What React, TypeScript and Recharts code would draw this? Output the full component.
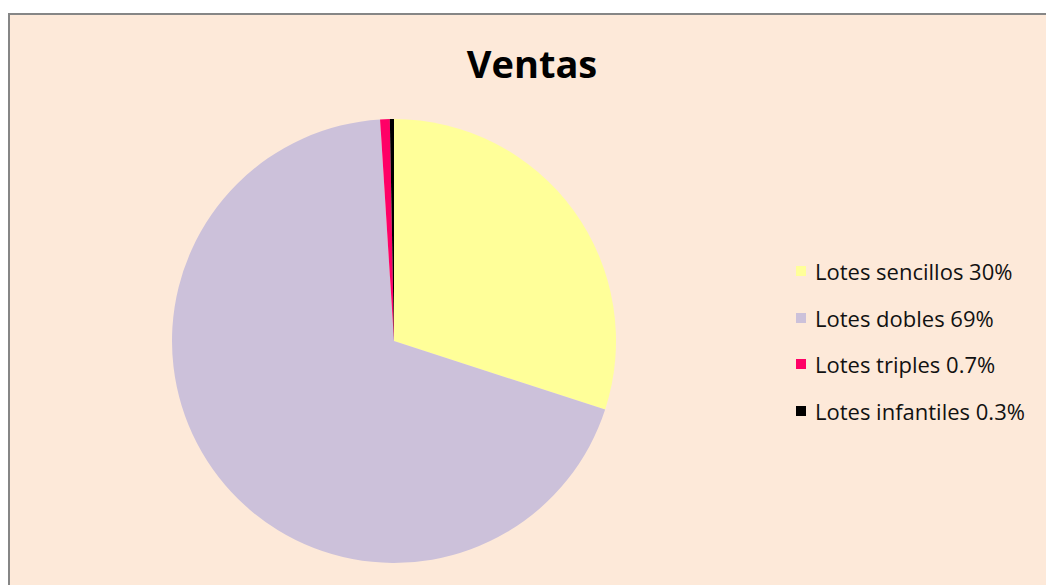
import * as React from "react";
import { PieChart, Pie, Cell, Legend } from "recharts";

const categories = ["Lotes sencillos", "Lotes dobles", "Lotes triples", "Lotes infantiles"];
const shares = [30, 69, 0.7, 0.3];
const shareLabels = ["30%", "69%", "0.7%", "0.3%"];
const colors = ["#FFFF99", "#CCC1DA", "#FF0066", "#000000"];

const data = categories.map((name, i) => ({
  name: name + " " + shareLabels[i],
  value: shares[i],
}));

const renderLegend = () => (
  <div>
    {data.map((d, i) => (
      <div
        key={d.name}
        style={{ display: "flex", alignItems: "center", height: 46.5 }}
      >
        <span
          style={{
            display: "inline-block",
            width: 10,
            height: 10,
            background: colors[i],
            marginRight: 9,
          }}
        />
        <span style={{ fontSize: 22, color: "#111" }}>{d.name}</span>
      </div>
    ))}
  </div>
);

export default function App() {
  return (
    <div
      style={{
        position: "absolute",
        left: 8,
        top: 13,
        width: 1040,
        height: 575,
        background: "#FDE9D9",
        borderLeft: "2px solid #868686",
        borderTop: "2px solid #868686",
        fontFamily: "'Open Sans', sans-serif",
      }}
    >
      <div
        style={{
          position: "absolute",
          left: 0,
          width: 1044,
          top: 22,
          textAlign: "center",
          fontSize: 38,
          fontWeight: "bold",
          color: "#000",
        }}
      >
        Ventas
      </div>
      <PieChart width={1040} height={575}>
        <Pie
          data={data}
          dataKey="value"
          nameKey="name"
          cx={379}
          cy={321}
          outerRadius={222}
          startAngle={90}
          endAngle={-270}
          stroke="none"
          isAnimationActive={false}
        >
          {data.map((d, i) => (
            <Cell key={d.name} fill={colors[i]} />
          ))}
        </Pie>
        <Legend
          content={renderLegend}
          layout="vertical"
          wrapperStyle={{ position: "absolute", left: 786, top: 233, width: 250 }}
        />
      </PieChart>
    </div>
  );
}
